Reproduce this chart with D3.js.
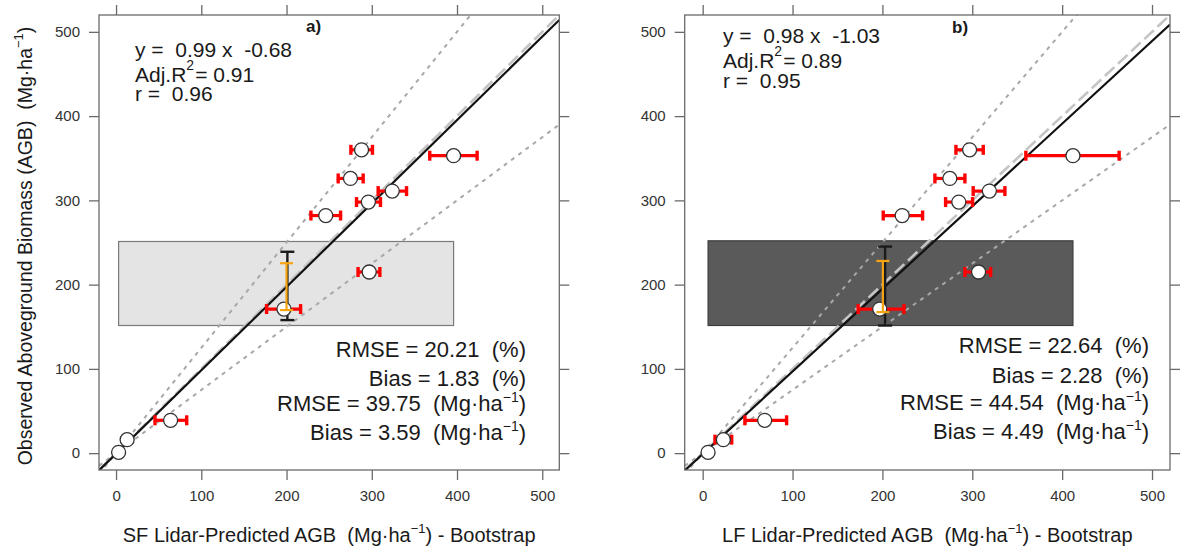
<!DOCTYPE html>
<html>
<head>
<meta charset="utf-8">
<script src="https://cdn.jsdelivr.net/npm/d3@7"></script>
<style>
  html, body { margin: 0; padding: 0; background: #fff; }
  svg { display: block; }
  text { font-family: "Liberation Sans", Arial, Helvetica, sans-serif; white-space: pre; }
</style>
</head>
<body>
<svg id="chart" width="1184" height="552"></svg>
<script>
// ---- data ----
const axisTicks = [0, 100, 200, 300, 400, 500];
const axisDomain = [-20, 520];

// Observed AGB per plot (Mg/ha), same plots in both panels
const observedAGB = [360, 353, 326, 311, 298, 282, 215, 171, 39, 16, 1];

// Small-footprint (SF) lidar bootstrap predictions and their intervals
const predSF = [288, 396, 275, 324, 296, 246, 297, 197, 64, 13, 3];
const lowSF  = [275.5, 368, 260.6, 307.5, 282.1, 228.6, 283.9, 176.6, 45.7, 10, 0];
const highSF = [300.8, 423.6, 289.9, 340.8, 310.2, 263.4, 309.5, 216.5, 82.9, 17, 5];

// Large-footprint (LF) lidar bootstrap predictions and their intervals
const predLF = [297, 412, 275, 319, 285, 222, 307, 197, 69, 23, 6];
const lowLF  = [281.8, 359.6, 258.4, 301, 270.3, 200.9, 291.8, 173, 47, 13.7, 3];
const highLF = [312.2, 463.4, 291.8, 336.3, 300.3, 244.7, 320.4, 224, 93.4, 32.3, 9];

// Regression fits
const fitSF = { slope: 0.99, intercept: -0.68, adjR2: "0.91", r: "0.96" };
const fitLF = { slope: 0.98, intercept: -1.03, adjR2: "0.89", r: "0.95" };

// Accuracy statistics
const statsSF = { rmsePct: "20.21", biasPct: "1.83", rmse: "39.75", bias: "3.59" };
const statsLF = { rmsePct: "22.64", biasPct: "2.28", rmse: "44.54", bias: "4.49" };

// Band of observed AGB shown as a shaded rectangle
const bandSF = [151.5, 251.2];
const bandLF = [151.5, 252];

// Vertical intervals at the centre of the band: [x, low, high]
const outerIntervalSF = [201, 157.9, 239];
const innerIntervalSF = [200, 169.8, 225.4];
const outerIntervalLF = [203, 151.5, 245.2];
const innerIntervalLF = [200.5, 167.4, 228.1];

// Envelope slopes (dotted lines)
const envelopeSlopes = [1.25, 0.75];

// ---- layout ----
const plotTop = 15, plotBottom = 470;
const panels = [
  { id: "a", left: 99, right: 559.3, pred: predSF, low: lowSF, high: highSF, fit: fitSF, stats: statsSF,
    band: bandSF, outer: outerIntervalSF, inner: innerIntervalSF, bandFill: "#e4e4e4", bandStroke: "#7a7a7a",
    prefix: "SF", eqX: 135, eqY: [56.7, 82, 100.5], statX: 526, statY: [357, 386, 411, 440], tagX: 306, tagY: 32 },
  { id: "b", left: 684.7, right: 1170, pred: predLF, low: lowLF, high: highLF, fit: fitLF, stats: statsLF,
    band: bandLF, outer: outerIntervalLF, inner: innerIntervalLF, bandFill: "#5a5a5a", bandStroke: "#3c3c3c",
    prefix: "LF", eqX: 723, eqY: [42.7, 68.3, 88.3], statX: 1149, statY: [353, 383, 410, 439], tagX: 952, tagY: 33 }
];

const svg = d3.select("#chart");
const axisColor = "#6a6a6a";
const labelColor = "#333";
const textColor = "#1a1a1a";

// y-axis title (left panel only)
const yTitle = svg.append("text")
  .attr("transform", "translate(32,246) rotate(-90)")
  .attr("text-anchor", "middle")
  .attr("font-size", 19.5)
  .attr("fill", textColor);
yTitle.append("tspan").text("Observed Aboveground Biomass (AGB)  (Mg·ha");
yTitle.append("tspan").attr("dy", -9).attr("font-size", 13).text("−1");
yTitle.append("tspan").attr("dy", 9).text(")");

panels.forEach(p => {
  const x = d3.scaleLinear().domain(axisDomain).range([p.left, p.right]);
  const y = d3.scaleLinear().domain(axisDomain).range([plotBottom, plotTop]);
  const g = svg.append("g");

  const clipId = "clip-" + p.id;
  svg.append("clipPath").attr("id", clipId)
    .append("rect")
    .attr("x", p.left).attr("y", plotTop)
    .attr("width", p.right - p.left).attr("height", plotBottom - plotTop);

  // shaded band spanning the range of predictions
  const [pmin, pmax] = d3.extent(p.pred);
  g.append("rect")
    .attr("x", x(pmin)).attr("y", y(p.band[1]))
    .attr("width", x(pmax) - x(pmin)).attr("height", y(p.band[0]) - y(p.band[1]))
    .attr("fill", p.bandFill).attr("stroke", p.bandStroke).attr("stroke-width", 1.2);

  const lines = g.append("g").attr("clip-path", `url(#${clipId})`);
  const line = d3.line().x(d => x(d[0])).y(d => y(d[1]));

  // ±25% envelope
  envelopeSlopes.forEach(s => {
    lines.append("path")
      .attr("d", line(axisDomain.map(v => [v, s * v])))
      .attr("fill", "none").attr("stroke", "#a8a8a8")
      .attr("stroke-width", 2).attr("stroke-dasharray", "4,5");
  });
  // 1:1 line
  lines.append("path")
    .attr("d", line(axisDomain.map(v => [v, v])))
    .attr("fill", "none").attr("stroke", "#c4c4c4")
    .attr("stroke-width", 2.6).attr("stroke-dasharray", "13,5");
  // regression line
  lines.append("path")
    .attr("d", line(axisDomain.map(v => [v, p.fit.slope * v + p.fit.intercept])))
    .attr("fill", "none").attr("stroke", "#111")
    .attr("stroke-width", 2.2);

  const vbar = (iv, color, width, capW) => {
    const gg = g.append("g").attr("stroke", color).attr("stroke-width", width);
    gg.append("line").attr("x1", x(iv[0])).attr("x2", x(iv[0])).attr("y1", y(iv[1])).attr("y2", y(iv[2]));
    [iv[1], iv[2]].forEach(v => gg.append("line")
      .attr("x1", x(iv[0]) - capW / 2).attr("x2", x(iv[0]) + capW / 2)
      .attr("y1", y(v)).attr("y2", y(v)));
  };
  // outer vertical interval (black)
  vbar(p.outer, "#1a1a1a", 2.4, 14);

  // horizontal bootstrap intervals (red)
  const idx = d3.range(p.pred.length);
  const eb = g.append("g").attr("stroke", "#ff0000");
  idx.forEach(i => {
    const yy = y(observedAGB[i]);
    eb.append("line").attr("x1", x(p.low[i])).attr("x2", x(p.high[i]))
      .attr("y1", yy).attr("y2", yy).attr("stroke-width", 3.2);
    [p.low[i], p.high[i]].forEach(v => eb.append("line")
      .attr("x1", x(v)).attr("x2", x(v))
      .attr("y1", yy - 5).attr("y2", yy + 5).attr("stroke-width", 3.4));
  });

  // plots
  g.append("g").selectAll("circle").data(idx).join("circle")
    .attr("cx", i => x(p.pred[i])).attr("cy", i => y(observedAGB[i]))
    .attr("r", 7).attr("fill", "#fff").attr("stroke", "#333").attr("stroke-width", 1.3);

  // inner vertical interval (orange)
  vbar(p.inner, "#f5a511", 2.2, 13);

  // frame
  g.append("rect")
    .attr("x", p.left).attr("y", plotTop)
    .attr("width", p.right - p.left).attr("height", plotBottom - plotTop)
    .attr("fill", "none").attr("stroke", axisColor).attr("stroke-width", 1.3);

  const styleAxis = (sel, showLabels) => {
    sel.select(".domain").remove();
    sel.selectAll(".tick line").attr("stroke", axisColor).attr("stroke-width", 1.3);
    sel.selectAll(".tick text")
      .attr("fill", labelColor)
      .attr("font-size", 15)
      .style("font-family", '"Liberation Sans", Arial, sans-serif');
    if (!showLabels) sel.selectAll(".tick text").remove();
  };

  svg.append("g").attr("transform", `translate(0,${plotBottom})`)
    .call(d3.axisBottom(x).tickValues(axisTicks).tickSize(10).tickPadding(10))
    .call(s => styleAxis(s, true));
  svg.append("g").attr("transform", `translate(0,${plotTop})`)
    .call(d3.axisTop(x).tickValues(axisTicks).tickSize(10))
    .call(s => styleAxis(s, false));
  svg.append("g").attr("transform", `translate(${p.left},0)`)
    .call(d3.axisLeft(y).tickValues(axisTicks).tickSize(10).tickPadding(9))
    .call(s => styleAxis(s, true));
  svg.append("g").attr("transform", `translate(${p.right},0)`)
    .call(d3.axisRight(y).tickValues(axisTicks).tickSize(10))
    .call(s => styleAxis(s, false));

  // x-axis title
  const xt = svg.append("text")
    .attr("x", (p.left + p.right) / 2).attr("y", 542)
    .attr("text-anchor", "middle").attr("font-size", 20).attr("fill", textColor);
  xt.append("tspan").text(`${p.prefix} Lidar-Predicted AGB  (Mg·ha`);
  xt.append("tspan").attr("dy", -9).attr("font-size", 13).text("−1");
  xt.append("tspan").attr("dy", 9).text(") - Bootstrap");

  // panel tag
  svg.append("text").attr("x", p.tagX).attr("y", p.tagY)
    .attr("font-size", 17).attr("font-weight", "bold").attr("fill", textColor)
    .text(p.id + ")");

  // regression equation block
  const eq = svg.append("g").attr("font-size", 21).attr("fill", textColor);
  const sign = p.fit.intercept < 0 ? "-" : "+";
  eq.append("text").attr("x", p.eqX).attr("y", p.eqY[0])
    .text(`y =  ${p.fit.slope.toFixed(2)} x  ${sign}${Math.abs(p.fit.intercept).toFixed(2)}`);
  const r2 = eq.append("text").attr("x", p.eqX).attr("y", p.eqY[1]);
  r2.append("tspan").text("Adj.R");
  r2.append("tspan").attr("dy", -12).attr("font-size", 14).text("2");
  r2.append("tspan").attr("dy", 12).attr("dx", 1).text("= " + p.fit.adjR2);
  eq.append("text").attr("x", p.eqX).attr("y", p.eqY[2]).text(`r =  ${p.fit.r}`);

  // accuracy statistics
  const st = svg.append("g").attr("font-size", 22).attr("fill", textColor).attr("text-anchor", "end");
  st.append("text").attr("x", p.statX).attr("y", p.statY[0]).text(`RMSE = ${p.stats.rmsePct}  (%)`);
  st.append("text").attr("x", p.statX).attr("y", p.statY[1]).text(`Bias = ${p.stats.biasPct}  (%)`);
  [[p.stats.rmse, "RMSE", p.statY[2]], [p.stats.bias, "Bias", p.statY[3]]].forEach(([v, lab, yy]) => {
    const t = st.append("text").attr("x", p.statX).attr("y", yy);
    t.append("tspan").text(`${lab} = ${v}  (Mg·ha`);
    t.append("tspan").attr("dy", -9).attr("font-size", 14).text("−1");
    t.append("tspan").attr("dy", 9).text(")");
  });
});
</script>
</body>
</html>
